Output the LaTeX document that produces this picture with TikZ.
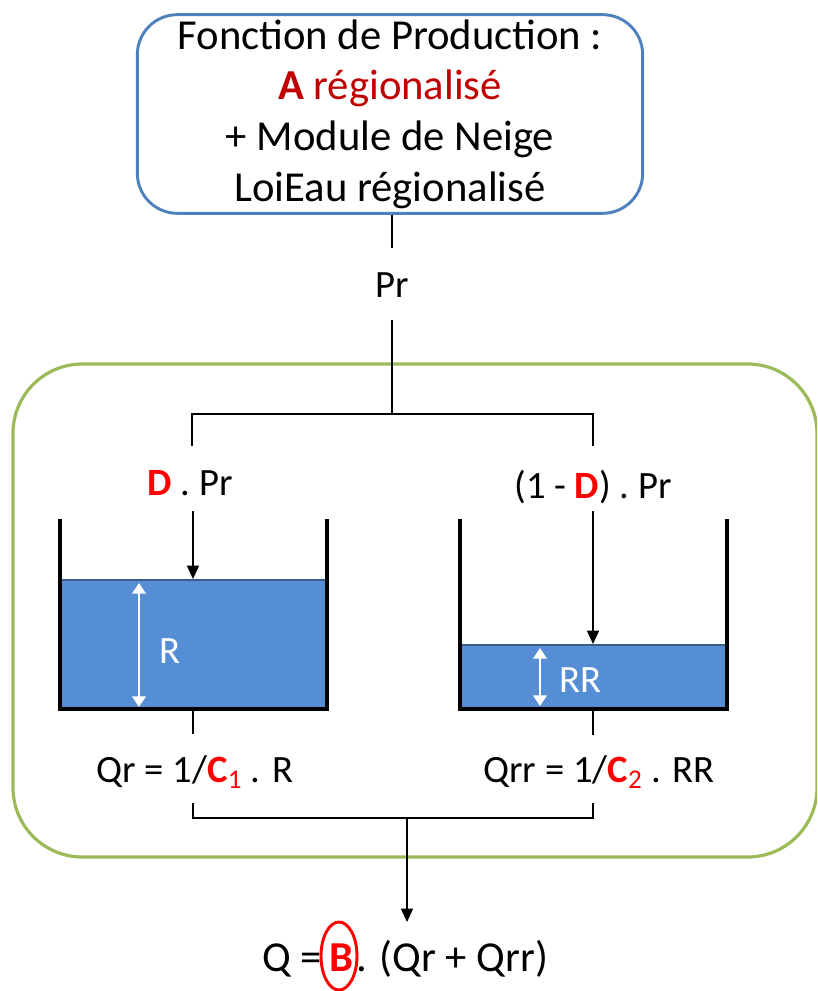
\documentclass[tikz,border=0pt]{standalone}
\usepackage{fontspec}
\setmainfont{Carlito}
\usetikzlibrary{arrows.meta}
\definecolor{boxblue}{RGB}{79,129,189}
\definecolor{boxgreen}{RGB}{155,187,89}
\definecolor{water}{RGB}{85,142,213}
\definecolor{surface}{RGB}{58,94,140}
\definecolor{darkred}{RGB}{192,0,0}
\definecolor{hotred}{RGB}{255,0,0}
\newcommand{\param}[1]{\textcolor{hotred}{\textbf{#1}}}

\begin{document}
\begin{tikzpicture}[
  x=0.75pt,y=-0.75pt,
  font=\fontsize{29}{38}\selectfont,
  every node/.style={align=center,inner sep=0pt},
  big/.style={font=\fontsize{32}{38}\selectfont},
  prodbox/.style={big,draw=boxblue,line width=2.2pt,rounded corners=30pt,minimum width=379pt,minimum height=149pt},
  zone/.style={draw=boxgreen,line width=2.4pt,rounded corners=52pt},
  wall/.style={line width=3.2pt,line join=miter},
  link/.style={line width=1.1pt},
  flow/.style={link,-{Triangle[length=10pt,width=9pt]}},
  level/.style={white,line width=2pt,{Triangle[length=8pt,width=10pt]}-{Triangle[length=8pt,width=10pt]}},
]
\useasboundingbox (0,0) rectangle (817,991);

% ---- Production function (top)
\node[prodbox] (prod) at (390,114)
  {Fonction de Production :\\
   \textcolor{darkred}{\textbf{A} régionalisé}\\
   + Module de Neige\\
   LoiEau régionalisé};
\node (pr) at (392,285) {Pr};

% ---- Routing zone (green frame)
\begin{scope}
  \clip (0,0) rectangle (817,991);
  \draw[zone] (13,364) rectangle (817,857);
\end{scope}

% ---- Split of Pr
\coordinate (split) at (392,414);
\node (dpr)  at (190,483) {\param{D} . Pr};
\node (ndpr) at (593,487) {(1 - \param{D}) . Pr};
\coordinate (inR)  at (193,511);
\coordinate (inRR) at (593,511);

% ---- Reservoirs
\fill[water] (60,580) rectangle (327,709);
\draw[surface,line width=1.6pt] (60,580) -- (327,580);
\draw[wall] (60,519) -- (60,709) -- (327,709) -- (327,519);
\fill[water] (460,645) rectangle (727,709);
\draw[surface,line width=1.6pt] (460,645) -- (727,645);
\draw[wall] (460,519) -- (460,709) -- (727,709) -- (727,519);
\coordinate (topR)  at (193,579);
\coordinate (topRR) at (593,644);
\coordinate (botR)  at (193,709);
\coordinate (botRR) at (593,709);

\draw[level] (139,583) -- (139,707);
\node[white] (rlab) at (170,651) {R};
\draw[level] (540,648) -- (540,706);
\node[white] (rrlab) at (580,680) {RR};

% ---- Outflows
\node (qr)  at (195,772) {Qr = 1/\param{C}\textcolor{hotred}{\textsubscript{1}} . R};
\node (qrr) at (599,772) {Qrr = 1/\param{C}\textcolor{hotred}{\textsubscript{2}} . RR};
\coordinate (join) at (407,818);

% ---- Total outflow
\node[big] (bval) at (341,958) {\param{B}};
\node[big,anchor=base east] (qlhs) at ([xshift=-5pt]bval.base west) {Q =};
\node[big,anchor=base west] (qrhs) at ([xshift=2pt]bval.base east) {. (Qr + Qrr)};

% ---- Connectors
\draw[link] (prod.south) ++(2,0) -- (392,248);
\draw[link] (392,320) -- (split);
\draw[link] (192,446) |- (split) -| (593,446);
\draw[flow] (inR) -- (topR);
\draw[flow] (inRR) -- (topRR);
\draw[link] (botR) -- (193,734);
\draw[link] (botRR) -- (593,735);
\draw[link] (193,803) |- (join) -| (593,803);
\draw[flow] (join) -- (407,922);
\draw[hotred,line width=2.2pt] (bval.center) ++(-2,-2) ellipse (18 and 34);

\end{tikzpicture}
\end{document}
